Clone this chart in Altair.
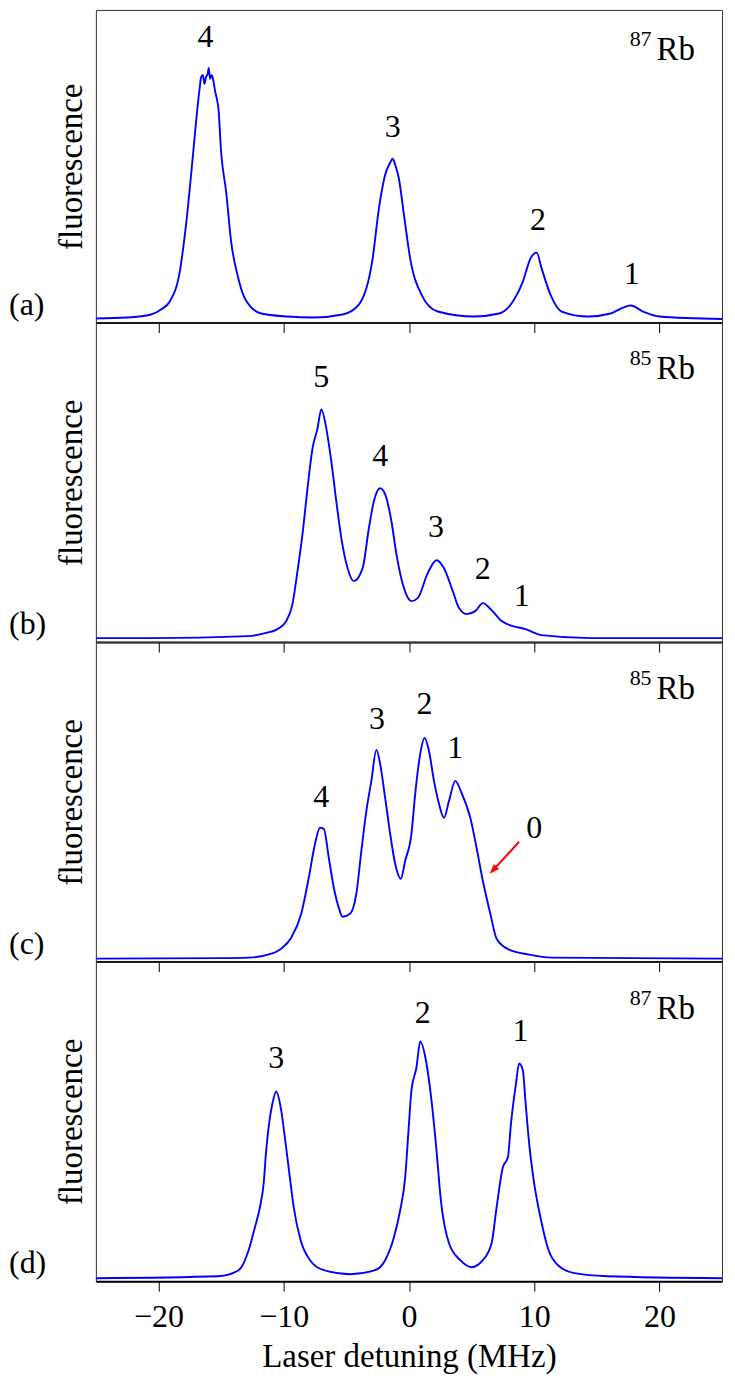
import altair as alt
import pandas as pd

FONT = "Liberation Serif"
BLUE = "#0000ff"

# ---------------- data ----------------
# panel (a) 87Rb
xa = [-25, -22.5, -20.6, -19.8, -19.1, -18.3, -17.8, -17.2, -17.0, -16.72, -16.59, -16.46, -16.33,
      -16.2, -16.07, -15.99, -15.88, -15.75, -15.6, -15.47, -15.34, -15.21, -15.0, -14.6, -14.2,
      -13.7, -13.1, -11.8, -9.7, -7.6, -5.3, -4.0, -2.9, -2.4, -1.9,
      -1.5, -1.3, -1.1, -0.8, -0.4, 0.1, 1.0, 2.3, 5.2, 7.2, 8.3, 9.1, 9.7, 10.2, 10.6, 11.3, 12.2,
      14.3, 16.1, 17.1, 17.7, 18.7, 20.0, 25.0]
ya = [4, 5, 8, 13, 21, 51, 98, 174, 201, 234, 246, 248, 239,
      246, 249, 255, 244, 248, 241, 231, 224, 214, 171, 131, 81,
      48, 24, 9, 6, 5, 8, 18, 64, 114, 148,
      160, 164, 158, 144, 108, 64, 28, 11, 6, 9, 21, 41, 64, 70, 54, 28, 11,
      6, 9, 15, 17, 11, 6, 3.5]

# panel (b) 85Rb
xb = [-25, -20.6, -12.8, -11.5, -10.5, -9.8, -9.3, -8.9, -8.5, -8.1, -7.7, -7.3, -7.0, -6.6, -6.2,
      -5.8, -5.4, -4.9, -4.4, -3.7, -3.2, -2.8, -2.3, -1.9, -1.4, -1.0, -0.4, 0.2, 0.7, 1.5, 2.2,
      2.8, 3.5, 4.0, 4.6, 5.3, 5.9, 6.6, 7.4, 8.3, 9.3, 10.6, 14.5, 25]
yb = [4, 4, 6, 9, 13, 21, 38, 71, 108, 154, 194, 214, 233, 214, 181,
      141, 104, 74, 61, 74, 114, 141, 154, 148, 121, 88, 54, 41, 44, 69, 82,
      74, 51, 34, 28, 31, 39, 32, 21, 16, 13, 7, 4, 4]

# panel (c) 85Rb
xc = [-25, -15, -12.8, -11.25, -10.2, -9.4, -8.6, -8.0, -7.5, -7.1, -6.8, -6.4, -6.0, -5.6, -5.3,
      -4.7, -4.2, -3.8, -3.4, -3.0, -2.6, -2.3, -1.9, -1.5, -1.1, -0.65, -0.3, 0.2, 0.5, 0.9, 1.25,
      1.6, 2.0, 2.4, 2.8, 3.2, 3.7, 4.2, 4.9, 5.4, 5.9, 6.5, 7.0, 8.0, 9.6, 11.4, 25]
yc = [3, 3.5, 4, 7, 13, 24, 48, 84, 118, 134, 133, 104, 74, 54, 45,
      48, 68, 111, 151, 181, 212, 198, 164, 128, 98, 83, 101, 128, 168, 208, 224,
      211, 181, 158, 144, 161, 181, 169, 144, 114, 81, 48, 23, 12, 7, 4, 3]

# panel (d) 87Rb
xd = [-25, -15.2, -13.6, -12.8, -12.3, -11.9, -11.6, -11.4, -11.1, -10.9, -10.6, -10.2, -9.95, -9.55,
      -9.2, -8.65, -7.9, -6.8, -4.7, -2.7, -1.9, -1.2, -0.7, -0.3, -0.05, 0.2, 0.6, 0.9, 1.4, 1.8,
      2.2, 2.55, 3.2, 4.1, 5.0, 5.9, 6.6, 7.0, 7.5, 7.9, 8.15, 8.55, 8.8, 9.1, 9.3, 9.6, 10.0, 10.5,
      11.15, 11.9, 13.2, 15.8, 25]
yd = [3, 5, 11, 31, 54, 74, 98, 131, 164, 178, 190, 171, 148, 108,
      74, 41, 21, 11, 7, 11, 21, 44, 71, 104, 148, 191, 214, 240, 218, 181,
      131, 81, 38, 21, 14, 21, 38, 74, 114, 124, 158, 198, 218, 211, 181, 138, 98, 64,
      31, 16, 8, 5, 3]

# peak labels (x, y, text)
lab_a_x = [-16.25, -1.3, 10.3, 17.8]
lab_a_y = [286, 196, 103, 49]
lab_a_t = ["4", "3", "2", "1"]
lab_b_x = [-7.0, -2.3, 2.15, 5.9, 9.0]
lab_b_y = [265, 186, 115, 73, 46]
lab_b_t = ["5", "4", "3", "2", "1"]
lab_c_x = [-7.0, -2.55, 1.25, 3.7, 10.0]
lab_c_y = [165, 243, 258, 214, 134]
lab_c_t = ["4", "3", "2", "1", "0"]
lab_d_x = [-10.6, 1.1, 8.9]
lab_d_y = [223, 269, 251]
lab_d_t = ["3", "2", "1"]

isotopes = ["87", "85", "85", "87"]
tags = ["(a)", "(b)", "(c)", "(d)"]

# arrow in panel (c): start -> head
arrow_x = [8.8, 6.72]
arrow_y = [120, 91.6]

ticks = [-20, -10, 0, 10, 20]

ARROWHEAD = "M0,-1L0.7,1L-0.7,1Z"
W = 627


def panel(xs, ys, lx, ly, lt, iso, tag, height, last=False, arrow=False):
    xscale = alt.Scale(domain=[-25, 25], nice=False, zero=False)
    yscale = alt.Scale(domain=[0, height], nice=False, zero=False)
    common = dict(values=ticks, tickSize=10, tickColor="black", tickWidth=1,
                  domainColor="black", domainWidth=2, grid=False)
    if last:
        xaxis = alt.Axis(title="Laser detuning (MHz)", labelFont=FONT, labelFontSize=32,
                         labelColor="black", labelPadding=10, titleFont=FONT, titleFontSize=33,
                         titleFontWeight="normal", titleColor="black", titlePadding=8, **common)
    else:
        xaxis = alt.Axis(title=None, labels=False, **common)
    yaxis = alt.Axis(title="fluorescence", labels=False, ticks=False, domain=False, grid=False,
                     titleFont=FONT, titleFontSize=33, titleFontWeight="normal",
                     titleColor="black", titlePadding=7)
    X = lambda f: alt.X(f, type="quantitative", scale=xscale, axis=xaxis)
    Y = lambda f: alt.Y(f, type="quantitative", scale=yscale, axis=yaxis)

    df = pd.DataFrame({"x": xs, "y": ys})
    line = alt.Chart(df).mark_line(color=BLUE, strokeWidth=1.9, interpolate="monotone").encode(
        x=X("x"), y=Y("y"))

    ldf = pd.DataFrame({"x": lx, "y": ly, "t": lt})
    labels = alt.Chart(ldf).mark_text(font=FONT, fontSize=32, color="black",
                                      baseline="middle", align="center").encode(
        x=X("x"), y=Y("y"), text="t:N")

    idf = pd.DataFrame({"x": [21.3], "y": [273], "sx": [18.5], "sy": [284],
                        "r": ["Rb"], "s": [iso]})
    rb = alt.Chart(idf).mark_text(font=FONT, fontSize=33, color="black",
                                  baseline="middle", align="center").encode(
        x=X("x"), y=Y("y"), text="r:N")
    sup = alt.Chart(idf).mark_text(font=FONT, fontSize=22, color="black",
                                   baseline="middle", align="center").encode(
        x=X("sx"), y=Y("sy"), text="s:N")

    tdf = pd.DataFrame({"t": [tag], "y": [18]})
    tg = alt.Chart(tdf).mark_text(font=FONT, fontSize=32, color="black",
                                  baseline="middle", align="left").encode(
        x=alt.value(-87), y=Y("y"), text="t:N")

    layers = [line, labels, rb, sup, tg]
    if arrow:
        adf = pd.DataFrame({"x": [arrow_x[0]], "y": [arrow_y[0]],
                            "x2": [arrow_x[1]], "y2": [arrow_y[1]]})
        shaft = alt.Chart(adf).mark_rule(color="red", strokeWidth=2).encode(
            x=X("x"), y=Y("y"), x2="x2:Q", y2="y2:Q")
        head = alt.Chart(adf).mark_point(shape=ARROWHEAD, filled=True, color="red",
                                         size=100, angle=223, opacity=1).encode(
            x=X("x2"), y=Y("y2"))
        layers += [shaft, head]
    return alt.layer(*layers).properties(width=W, height=height)


pa = panel(xa, ya, lab_a_x, lab_a_y, lab_a_t, isotopes[0], tags[0], 313)
pb = panel(xb, yb, lab_b_x, lab_b_y, lab_b_t, isotopes[1], tags[1], 320)
pc = panel(xc, yc, lab_c_x, lab_c_y, lab_c_t, isotopes[2], tags[2], 320, arrow=True)
pd_ = panel(xd, yd, lab_d_x, lab_d_y, lab_d_t, isotopes[3], tags[3], 320, last=True)

chart = alt.vconcat(pa, pb, pc, pd_, spacing=0, bounds="flush").properties(
    padding={"left": 0, "top": 0, "right": 0, "bottom": 0},
    background="white"
).configure_view(stroke="#333333", strokeWidth=1)

chart.save("out.html", embed_options={"renderer": "svg", "actions": False})
